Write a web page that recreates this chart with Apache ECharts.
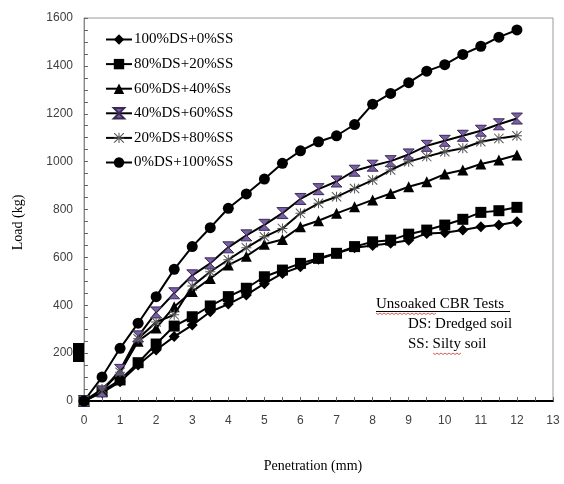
<!DOCTYPE html>
<html>
<head>
<meta charset="utf-8">
<script src="https://cdn.jsdelivr.net/npm/echarts@6/dist/echarts.min.js"></script>
<style>
html,body{margin:0;padding:0;background:#fff;}
#main{width:564px;height:484px;}
</style>
</head>
<body>
<div id="main"></div>
<script>
// penetration (mm), every 0.5 mm
var pen = [0,0.5,1,1.5,2,2.5,3,3.5,4,4.5,5,5.5,6,6.5,7,7.5,8,8.5,9,9.5,10,10.5,11,11.5,12];
var names = ['100%DS+0%SS','80%DS+20%SS','60%DS+40%Ss','40%DS+60%SS','20%DS+80%SS','0%DS+100%SS'];
// load (kg)
var ds100 = [0,35,80,150,213,269,317,373,405,443,490,533,561,592,617,640,650,659,672,700,703,714,728,735,749];
var ds80 = [0,40,88,160,238,313,352,397,436,471,519,547,575,596,617,645,665,672,697,714,735,759,788,795,809];
var ds60 = [0,45,120,250,305,394,457,512,568,605,655,675,728,753,784,812,840,867,895,916,948,965,990,1007,1028];
var ds40 = [0,40,130,270,370,450,525,575,642,692,736,785,844,885,917,962,983,1002,1030,1066,1087,1108,1129,1156,1180];
var ds20 = [0,50,120,260,330,360,480,540,590,640,686,721,784,826,853,888,923,965,1000,1021,1041,1056,1083,1097,1108];
var ds0 = [0,100,220,325,436,550,645,724,805,865,927,993,1045,1083,1108,1155,1240,1285,1330,1378,1405,1448,1482,1520,1550];
var xTicks = [0,1,2,3,4,5,6,7,8,9,10,11,12,13];
var yTicks = [0,200,400,600,800,1000,1200,1400,1600];

var hourglass = 'path://M0,0L10,0L0,10L10,10Z';
var star = 'path://M4.5,0L5.5,0L5.5,10L4.5,10Z M0,4.5L10,4.5L10,5.5L0,5.5Z M0.7,0L10,9.3L9.3,10L0,0.7Z M9.3,0L10,0.7L0.7,10L0,9.3Z';

function pairs(ys){
	var out = [];
	for(var i=0;i<pen.length;i++){
		out.push([pen[i], ys[i]]);
	}
	return out;
}

function line(name, ys, symbol, size, fill, border){
	return {
		name: name,
		type: 'line',
		data: pairs(ys),
		symbol: symbol,
		symbolSize: size,
		showAllSymbol: true,
		lineStyle: {color: '#000', width: 2},
		itemStyle: {color: fill, borderColor: border || fill, borderWidth: border ? 1 : 0},
		z: 3
	};
}

var chart = echarts.init(document.getElementById('main'));
var serif = '"Liberation Serif","Times New Roman",serif';
var sans = '"Liberation Sans",Arial,sans-serif';

var option = {
	animation: false,
	backgroundColor: '#fff',
	grid: {left: 84, right: 11, top: 18, bottom: 83, show: true, borderColor: '#9a9a9a', borderWidth: 1, containLabel: false, outerBoundsMode: 'none'},
	legend: {
		orient: 'vertical',
		left: 100,
		top: 27,
		itemWidth: 26,
		itemHeight: 13,
		itemGap: 9.6,
		textStyle: {fontFamily: serif, fontSize: 15, color: '#000', padding: [0,0,0,-3]},
		data: names
	},
	xAxis: {
		type: 'value',
		min: xTicks[0],
		max: xTicks[xTicks.length-1],
		interval: 1,
		name: 'Penetration (mm)',
		nameLocation: 'middle',
		nameGap: 58,
		nameTextStyle: {fontFamily: serif, fontSize: 14, color: '#000', padding: [0,0,0,-11]},
		axisLine: {lineStyle: {color: '#000', width: 2}},
		axisTick: {inside: true, length: 4, lineStyle: {color: '#666'}},
		minorTick: {show: true, splitNumber: 2, length: 4, lineStyle: {color: '#666'}},
		axisLabel: {fontFamily: sans, fontSize: 12, color: '#404040', margin: 14},
		splitLine: {show: false}
	},
	yAxis: {
		type: 'value',
		min: yTicks[0],
		max: yTicks[yTicks.length-1],
		interval: 200,
		name: 'Load (kg)',
		nameLocation: 'middle',
		nameGap: 59,
		nameTextStyle: {fontFamily: serif, fontSize: 14, color: '#000', padding: [0,26,0,0]},
		axisLine: {show: true, lineStyle: {color: '#8a8a8a', width: 1}},
		axisTick: {inside: true, length: 4, lineStyle: {color: '#666'}},
		minorTick: {show: true, splitNumber: 4, length: 4, lineStyle: {color: '#666'}},
		axisLabel: {fontFamily: sans, fontSize: 12, color: '#404040', margin: 11, formatter: function(v){ return String(v); }},
		splitLine: {show: false}
	},
	series: [
		line(names[0], ds100, 'diamond', 11, '#000'),
		line(names[1], ds80, 'rect', 11, '#000'),
		line(names[2], ds60, 'triangle', 11, '#000'),
		line(names[3], ds40, hourglass, 11, '#7b5fa6', '#3a2a55'),
		line(names[4], ds20, star, 10, '#555'),
		line(names[5], ds0, 'circle', 11, '#000')
	],
	graphic: [
		// stray block next to the 200 label
		{type: 'rect', shape: {x: 73, y: 343, width: 11, height: 19}, style: {fill: '#000'}, z: 10},
		{type: 'text', left: 376, top: 297, style: {text: 'Unsoaked CBR Tests', font: '15px ' + serif, fill: '#000'}},
		{type: 'line', shape: {x1: 376, y1: 311.5, x2: 510, y2: 311.5}, style: {stroke: '#000', lineWidth: 1}},
		{type: 'polyline', shape: {points: [[376,313],[378,314.5],[380,313],[382,314.5],[384,313],[386,314.5],[388,313],[390,314.5],[392,313],[394,314.5],[396,313],[398,314.5],[400,313],[402,314.5],[404,313],[406,314.5],[408,313],[410,314.5],[412,313],[414,314.5],[416,313],[418,314.5],[420,313],[422,314.5],[424,313],[426,314.5],[428,313],[430,314.5],[432,313],[434,314.5],[436,313]]}, style: {stroke: '#c0392b', lineWidth: 0.8, fill: null}},
		{type: 'text', left: 408, top: 317, style: {text: 'DS: Dredged soil', font: '15px ' + serif, fill: '#000'}},
		{type: 'text', left: 408, top: 337, style: {text: 'SS: Silty soil', font: '15px ' + serif, fill: '#000'}},
		{type: 'polyline', shape: {points: [[433,353],[435,354.5],[437,353],[439,354.5],[441,353],[443,354.5],[445,353],[447,354.5],[449,353],[451,354.5],[453,353],[455,354.5],[457,353],[459,354.5],[461,353]]}, style: {stroke: '#c0392b', lineWidth: 0.8, fill: null}}
	]
};
chart.setOption(option);
</script>
</body>
</html>
